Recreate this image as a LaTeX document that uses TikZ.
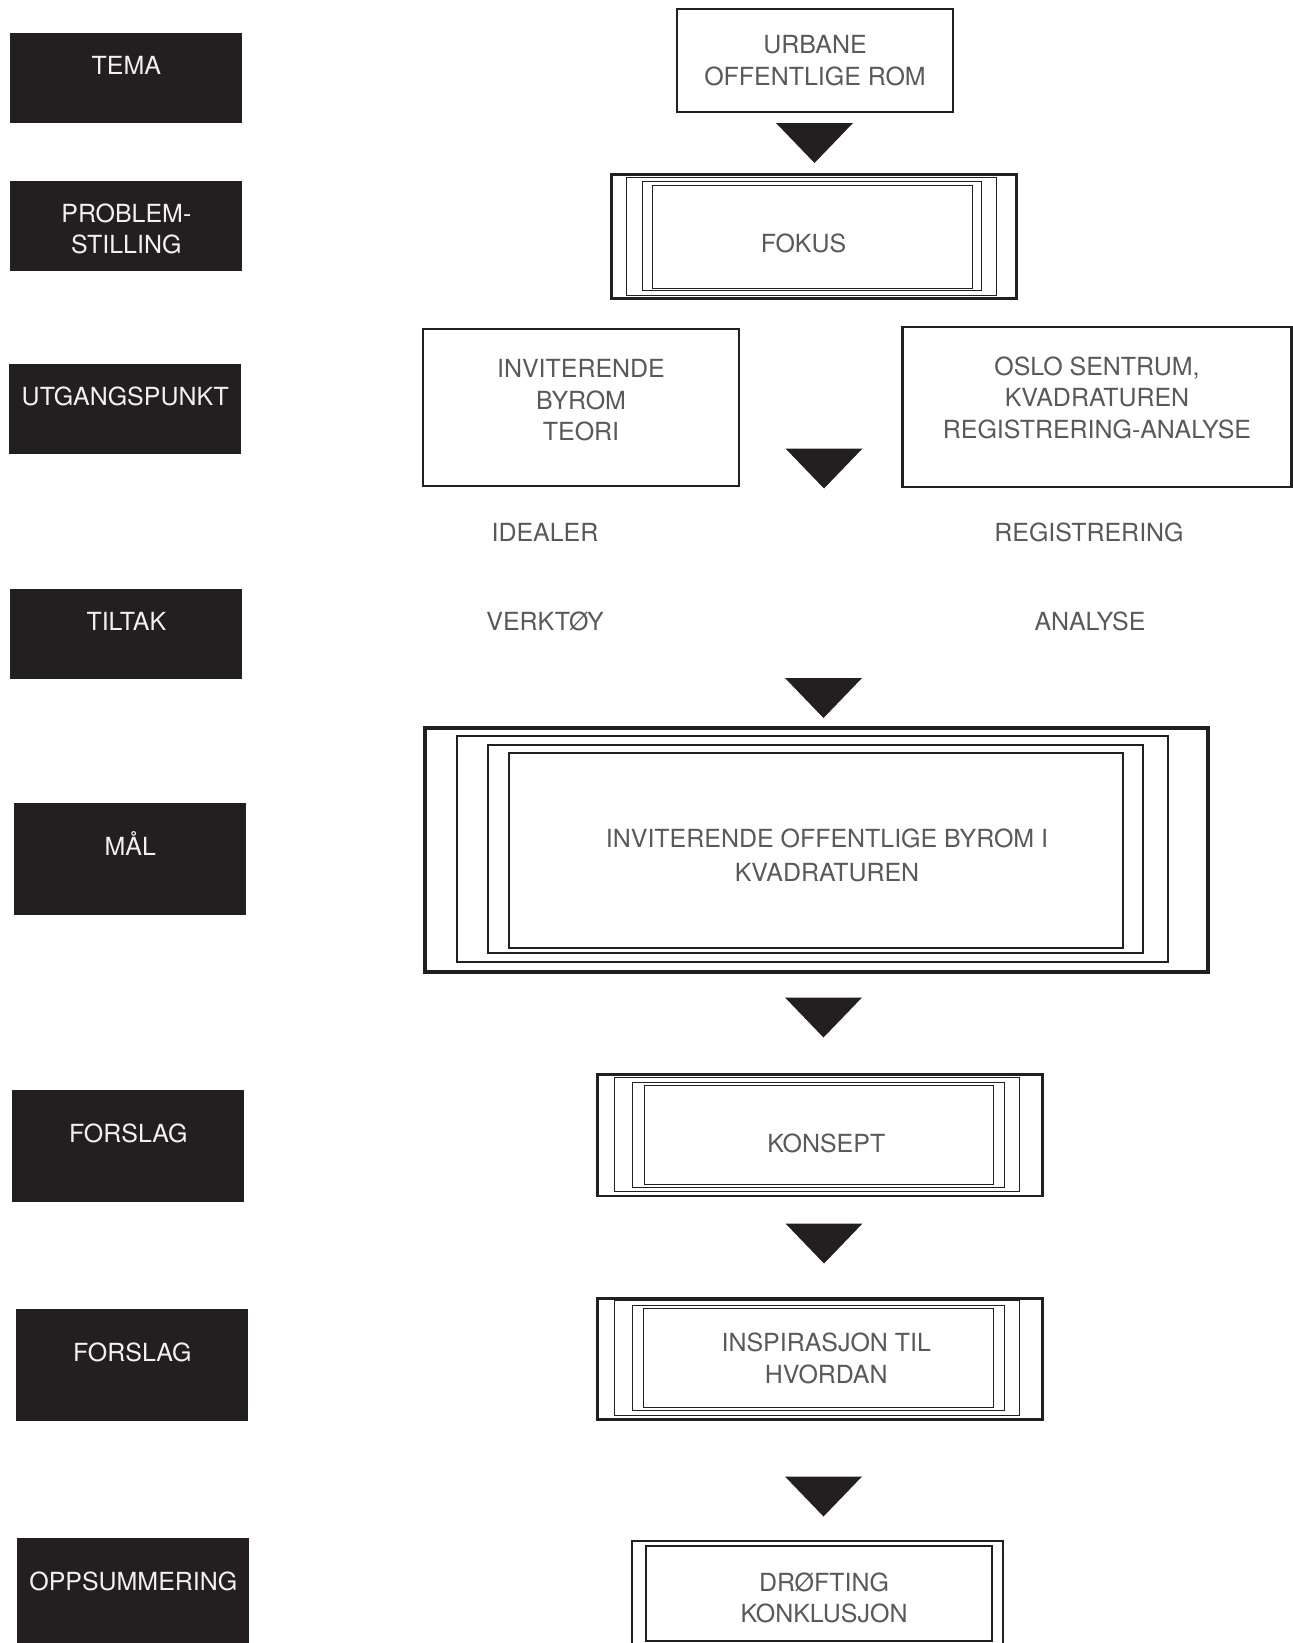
\documentclass[tikz,border=0pt]{standalone}
\usepackage{fontspec}
\setmainfont{TeX Gyre Heros}
\definecolor{ink}{HTML}{231F20}
\definecolor{tekst}{HTML}{58595B}
\definecolor{hvit}{HTML}{F1F1F2}
\tikzset{
    labelbox/.style={rectangle,fill=ink,text=hvit,anchor=north west,minimum width=4.64cm,inner sep=0pt,align=center},
    kort/.style={labelbox,text height=0.82cm,text depth=0.98cm},
    hoy/.style={labelbox,text height=1.04cm,text depth=1.2cm},
    boks/.style={rectangle,draw=ink,line width=1.4pt,text=tekst,align=center,inner sep=0pt},
    ramme/.style={draw=ink,line width=1pt},
    fritekst/.style={text=tekst,anchor=base},
    pil/.pic={\fill[ink] (-38.5,-20) -- (38.5,-20) -- (0,20) -- cycle;}
}

\begin{document}
\begin{tikzpicture}[
    x=0.02cm, y=-0.02cm,
    font=\fontsize{14.2}{18}\selectfont
]
\useasboundingbox (0,0) rectangle (1293,1643);
\clip (0,0) rectangle (1293,1643);

% svarte etiketter til venstre
\node[kort] (tema) at (10,33) {TEMA};
\node[kort,text height=1.45cm,text depth=0.35cm] (problem) at (10,181) {PROBLEM-\\STILLING};
\node[kort] (utgang) at (9,364) {UTGANGSPUNKT};
\node[kort] (tiltak) at (10,589) {TILTAK};
\node[hoy] (maal) at (14,803) {MÅL};
\node[hoy] (forslag1) at (12,1090) {FORSLAG};
\node[hoy] (forslag2) at (16,1309) {FORSLAG};
\node[hoy] (oppsum) at (17,1538) {OPPSUMMERING};

% bokser til hoyre
\node[boks,minimum width=5.52cm,minimum height=2.06cm] (urbane) at (815,60.5) {URBANE\\OFFENTLIGE ROM};
\node[boks,line width=1.7pt,minimum width=8.12cm,minimum height=2.5cm,text height=0.66cm] (fokus) at (814,236.5) {FOKUS\hspace*{0.42cm}};
\node[boks,minimum width=6.32cm,minimum height=3.14cm,text depth=0.3cm] (teori) at (581,407.5) {INVITERENDE\\BYROM\\TEORI};
\node[boks,minimum width=7.78cm,minimum height=3.2cm,text depth=0.38cm] (oslo) at (1097,407) {OSLO SENTRUM,\\KVADRATUREN\\REGISTRERING-ANALYSE};
\node[boks,line width=2.3pt,minimum width=15.66cm,minimum height=4.88cm,text height=1.28cm] (mal) at (816.5,850) {\hspace*{0.42cm}INVITERENDE OFFENTLIGE BYROM I\\[1.5pt]\hspace*{0.42cm}KVADRATUREN};
\node[boks,line width=1.7pt,minimum width=8.92cm,minimum height=2.44cm,text height=0.7cm] (konsept) at (820,1135) {\hspace*{0.25cm}KONSEPT};
\node[boks,line width=1.7pt,minimum width=8.92cm,minimum height=2.42cm] (inspirasjon) at (820,1358.5) {\hspace*{0.25cm}INSPIRASJON TIL\\\hspace*{0.25cm}HVORDAN};
\node[boks,line width=1.2pt,minimum width=6.92cm,minimum height=1.9cm,text height=1.18cm] (drofting) at (819,1593.5) {\hspace*{0.2cm}DRØFTING\\\hspace*{0.2cm}KONKLUSJON};

% fri tekst
\node[fritekst] (idealer) at (545,541) {IDEALER};
\node[fritekst] (verktoy) at (545,630) {VERKTØY};
\node[fritekst] (registrering) at (1089,541) {REGISTRERING};
\node[fritekst] (analyse) at (1090,630) {ANALYSE};

% rammer inni boksene
\foreach \a/\b/\c/\d in {17/5/-22/-5, 33/9/-37/-10, 43/13/-46/-12}
    \draw[ramme] ([shift={(\a,\b)}]fokus.north west) rectangle ([shift={(\c,\d)}]fokus.south east);
\foreach \a/\b/\c/\d/\w in {34/10/-42/-12/1.6pt, 65/19/-67/-21/1.6pt, 86/27/-87/-26/1.1pt}
    \draw[ramme,line width=\w] ([shift={(\a,\b)}]mal.north west) rectangle ([shift={(\c,\d)}]mal.south east);
\foreach \a/\b/\c/\d in {19/5/-25/-6, 37/10/-40/-10, 49/13/-51/-13}
    \draw[ramme] ([shift={(\a,\b)}]konsept.north west) rectangle ([shift={(\c,\d)}]konsept.south east);
\foreach \a/\b/\c/\d in {19/4/-25/-5, 37/9/-40/-10, 48/12/-51/-13}
    \draw[ramme] ([shift={(\a,\b)}]inspirasjon.north west) rectangle ([shift={(\c,\d)}]inspirasjon.south east);
\draw[ramme,line width=1.4pt] ([shift={(-13,-4)}]drofting.north west) rectangle ([shift={(10,40)}]drofting.south east);

% piler
\pic at (814.5,143) {pil};
\pic at (824,468.5) {pil};
\pic at (823.5,698) {pil};
\pic at (823.5,1017.5) {pil};
\pic at (824,1243.5) {pil};
\pic at (823.5,1496.5) {pil};
\end{tikzpicture}
\end{document}
